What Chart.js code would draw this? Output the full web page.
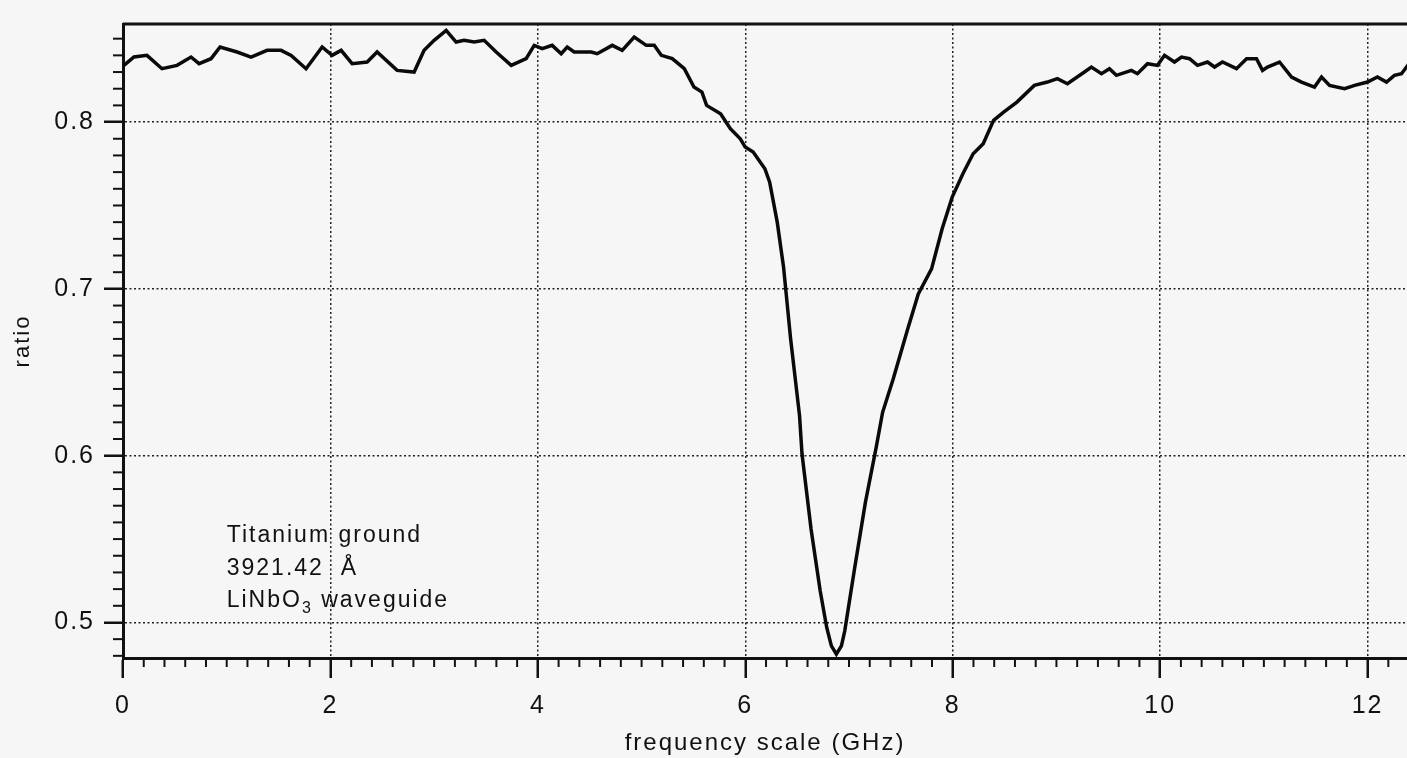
<!DOCTYPE html>
<html>
<head>
<meta charset="utf-8">
<title>Titanium ground - LiNbO3 waveguide</title>
<script src="https://cdn.jsdelivr.net/npm/chart.js@4/dist/chart.umd.min.js"></script>
<style>
    html, body { margin: 0; padding: 0; background: #f6f6f6; }
    canvas { display: block; }
</style>
</head>
<body>
<canvas id="ratioChart" width="1407" height="758"></canvas>
<script>
// Data
const freqGHz = [
    0.009, 0.106, 0.231, 0.376, 0.521, 0.656, 0.733, 0.849, 0.936, 1.100,
    1.235, 1.389, 1.524, 1.621, 1.765, 1.920, 2.016, 2.103, 2.209, 2.354,
    2.450, 2.643, 2.807, 2.903, 3.000, 3.116, 3.212, 3.289, 3.386, 3.482,
    3.598, 3.743, 3.887, 3.965, 4.042, 4.138, 4.225, 4.283, 4.350, 4.514,
    4.572, 4.717, 4.813, 4.929, 5.045, 5.122, 5.190, 5.296, 5.412, 5.505,
    5.582, 5.627, 5.762, 5.856, 5.952, 5.999, 6.076, 6.189, 6.235, 6.308,
    6.369, 6.437, 6.523, 6.547, 6.634, 6.722, 6.785, 6.830, 6.878, 6.927,
    6.959, 7.053, 7.158, 7.262, 7.324, 7.426, 7.496, 7.566, 7.668, 7.796,
    7.898, 7.995, 8.098, 8.197, 8.294, 8.394, 8.491, 8.619, 8.787, 8.913,
    9.009, 9.106, 9.270, 9.337, 9.434, 9.511, 9.578, 9.723, 9.781, 9.878,
    9.974, 10.042, 10.138, 10.206, 10.283, 10.360, 10.457, 10.524, 10.601, 10.736,
    10.833, 10.929, 10.987, 11.035, 11.151, 11.267, 11.363, 11.488, 11.556, 11.633,
    11.778, 11.875, 11.999, 12.095, 12.182, 12.259, 12.327, 12.423
];
const ratio = [
    0.834, 0.839, 0.840, 0.832, 0.834, 0.839, 0.835, 0.838, 0.845, 0.842,
    0.839, 0.843, 0.843, 0.840, 0.832, 0.845, 0.840, 0.843, 0.835, 0.836,
    0.842, 0.831, 0.830, 0.843, 0.849, 0.855, 0.848, 0.849, 0.848, 0.849,
    0.842, 0.834, 0.838, 0.846, 0.844, 0.846, 0.841, 0.845, 0.842, 0.842,
    0.841, 0.846, 0.843, 0.851, 0.846, 0.846, 0.840, 0.838, 0.832, 0.821,
    0.818, 0.810, 0.805, 0.796, 0.790, 0.785, 0.782, 0.772, 0.764, 0.740,
    0.713, 0.670, 0.624, 0.601, 0.556, 0.519, 0.497, 0.486, 0.481, 0.486,
    0.495, 0.532, 0.572, 0.605, 0.626, 0.646, 0.661, 0.676, 0.697, 0.712,
    0.736, 0.755, 0.769, 0.781, 0.787, 0.801, 0.806, 0.812, 0.822, 0.824,
    0.826, 0.823, 0.830, 0.833, 0.829, 0.832, 0.828, 0.831, 0.829, 0.835,
    0.834, 0.840, 0.836, 0.839, 0.838, 0.834, 0.836, 0.833, 0.836, 0.832,
    0.838, 0.838, 0.831, 0.833, 0.836, 0.827, 0.824, 0.821, 0.827, 0.822,
    0.820, 0.822, 0.824, 0.827, 0.824, 0.828, 0.829, 0.837
];

// Axis ticks and ranges
const xTickValues = [0, 2, 4, 6, 8, 10, 12];
const yTickValues = [0.5, 0.6, 0.7, 0.8];
const xRange = [0, 12.38];
const yRange = [0.4787, 0.8588];
const xMinorStep = 0.2;
const yMinorStep = 0.01;

// Text block in the lower left corner
const noteLines = ['Titanium ground', '3921.42  Å', 'LiNbO|3| waveguide'];
const noteAnchor = { x: 1.0, y: 0.548 };

const INK = '#111';
const FONT = "'Liberation Sans', Arial, sans-serif";

// Paper colour + letter spacing like the old plotter font
const paperPlugin = {
    id: 'paper',
    beforeDraw(chart) {
        const ctx = chart.ctx;
        ctx.save();
        ctx.fillStyle = '#f6f6f6';
        ctx.fillRect(0, 0, chart.width, chart.height);
        ctx.restore();
        ctx.letterSpacing = '2px';
    },
    afterDraw(chart) {
        chart.ctx.letterSpacing = '0px';
    }
};

// Minor ticks, top frame line and the text note
const extrasPlugin = {
    id: 'extras',
    afterDraw(chart) {
        const ctx = chart.ctx;
        const area = chart.chartArea;
        const xs = chart.scales.x;
        const ys = chart.scales.y;

        ctx.save();
        ctx.strokeStyle = INK;
        ctx.lineWidth = 2;

        // x minor ticks
        for (let i = 0; ; i++) {
            const v = i * xMinorStep;
            if (v > xRange[1]) break;
            if (Math.abs(v / 2 - Math.round(v / 2)) < 1e-6) continue;
            const px = xs.getPixelForValue(v);
            ctx.beginPath();
            ctx.moveTo(px, area.bottom);
            ctx.lineTo(px, area.bottom + 9);
            ctx.stroke();
        }

        // y minor ticks
        for (let i = Math.ceil(yRange[0] / yMinorStep); ; i++) {
            const v = i * yMinorStep;
            if (v > yRange[1]) break;
            if (i % 10 === 0) continue;
            const py = ys.getPixelForValue(v);
            ctx.beginPath();
            ctx.moveTo(area.left - 10, py);
            ctx.lineTo(area.left, py);
            ctx.stroke();
        }

        // top frame line
        ctx.lineWidth = 3;
        ctx.beginPath();
        ctx.moveTo(area.left, area.top);
        ctx.lineTo(area.right, area.top);
        ctx.stroke();

        // note text
        ctx.fillStyle = INK;
        ctx.textBaseline = 'alphabetic';
        ctx.textAlign = 'left';
        ctx.letterSpacing = '2px';
        const left = xs.getPixelForValue(noteAnchor.x);
        let base = ys.getPixelForValue(noteAnchor.y);
        noteLines.forEach(line => {
            // parts between | | are subscripts
            const parts = line.split('|');
            let cx = left;
            parts.forEach((part, idx) => {
                const sub = idx % 2 === 1;
                ctx.font = (sub ? '16px ' : '23px ') + FONT;
                ctx.fillText(part, cx, base + (sub ? 6 : 0));
                cx += ctx.measureText(part).width;
            });
            base += 32.5;
        });
        ctx.restore();
    }
};

const points = freqGHz.map((f, i) => ({ x: f, y: ratio[i] }));

new Chart(document.getElementById('ratioChart'), {
    type: 'line',
    data: {
        datasets: [{
            data: points,
            borderColor: '#0a0a0a',
            borderWidth: 3.5,
            pointRadius: 0,
            tension: 0,
            fill: false
        }]
    },
    options: {
        responsive: false,
        animation: false,
        devicePixelRatio: 1,
        layout: { padding: { top: 11, right: 0, bottom: 0, left: 0 } },
        plugins: {
            legend: { display: false },
            tooltip: { enabled: false }
        },
        scales: {
            x: {
                type: 'linear',
                min: xRange[0],
                max: xRange[1],
                afterBuildTicks: scale => {
                    scale.ticks = xTickValues.map(v => ({ value: v }));
                },
                afterFit: scale => { scale.height = 100; },
                ticks: {
                    callback: v => String(v),
                    font: { family: FONT, size: 25 },
                    color: INK,
                    padding: 13,
                    maxRotation: 0,
                    autoSkip: false
                },
                grid: {
                    color: '#222',
                    lineWidth: 1.5,
                    tickLength: 20,
                    tickWidth: 2.5,
                    tickColor: INK
                },
                border: { color: INK, width: 3, dash: [2, 2.5] },
                title: {
                    display: true,
                    text: 'frequency scale (GHz)',
                    font: { family: FONT, size: 24 },
                    color: INK,
                    padding: { top: 0, bottom: 0 }
                }
            },
            y: {
                type: 'linear',
                min: yRange[0],
                max: yRange[1],
                afterBuildTicks: scale => {
                    scale.ticks = yTickValues.map(v => ({ value: v }));
                },
                afterFit: scale => { scale.width = 123; },
                ticks: {
                    callback: v => v.toFixed(1),
                    font: { family: FONT, size: 25 },
                    color: INK,
                    padding: 9
                },
                grid: {
                    color: '#222',
                    lineWidth: 1.5,
                    tickLength: 19,
                    tickWidth: 2.5,
                    tickColor: INK
                },
                border: { color: INK, width: 3, dash: [2, 2.5] },
                title: {
                    display: true,
                    text: 'ratio',
                    font: { family: FONT, size: 22 },
                    color: INK,
                    padding: { top: 10, bottom: 0 }
                }
            }
        }
    },
    plugins: [paperPlugin, extrasPlugin]
});
</script>
</body>
</html>
